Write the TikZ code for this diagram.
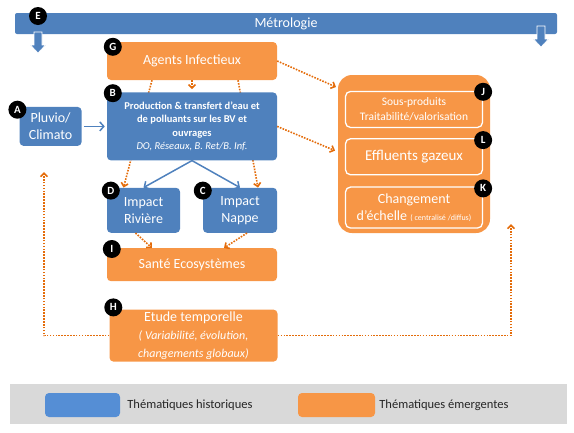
\documentclass[tikz,border=0pt]{standalone}
\usepackage{fontspec}
\setmainfont{Carlito}
\usetikzlibrary{positioning,arrows.meta,backgrounds}
\definecolor{histblue}{HTML}{4F81BD}
\definecolor{legblue}{HTML}{558ED5}
\definecolor{emorange}{HTML}{F79646}
\definecolor{dotorange}{HTML}{E46C0A}
\definecolor{leggray}{HTML}{D9D9D9}

\begin{document}
\begin{tikzpicture}[x=1pt,y=-1pt,
	bluenode/.style={rectangle,rounded corners=4pt,fill=histblue,text=white,align=center,inner sep=1pt},
	orangenode/.style={rectangle,rounded corners=4pt,fill=emorange,text=white,align=center,inner sep=1pt},
	innernode/.style={rectangle,rounded corners=5pt,draw=white,line width=1.3pt,text=white,align=center,inner sep=1pt,minimum width=137pt},
	letternode/.style={circle,fill=black,text=white,inner sep=0pt,minimum size=18pt,font=\fontsize{11}{11}\selectfont\bfseries},
	bluearrow/.style={draw=histblue,line width=1.5pt,-{Straight Barb[length=4pt,width=9pt]}},
	dotarrow/.style={draw=dotorange,line width=1.6pt,dash pattern=on 1.6pt off 1.3pt,-{Straight Barb[length=3.5pt,width=7pt]}},
	legendtext/.style={inner sep=0pt,text=black!85,font=\fontsize{12.5}{14}\selectfont}]
	\useasboundingbox (0,0) rectangle (574,432);

	\node[rectangle,fill=leggray,minimum width=557pt,minimum height=40pt]					(legend)	at (288.5,404)	{};
	\node[bluenode,fill=legblue,minimum width=75pt,minimum height=24pt]						(histkey)	at (82.5,405)	{};
	\node[legendtext,right=7pt of histkey]													(histtext)	{Thématiques historiques};
	\node[orangenode,minimum width=77pt,minimum height=24pt]								(emkey)		at (336.5,405)	{};
	\node[legendtext,right=4pt of emkey]													(emtext)	{Thématiques émergentes};

	\node[bluenode,rounded corners=2pt,minimum width=542pt,minimum height=21pt,font=\fontsize{14}{16}\selectfont]	(metro)	at (286,23.5)	{Métrologie};
	\foreach \xa/\ya in {38/32,541/26}
		\draw[fill=histblue,draw=white,line width=0.6pt] (\xa-4,\ya) -- (\xa+4,\ya) -- (\xa+4,\ya+13) -- (\xa+7.5,\ya+13) -- (\xa,\ya+21) -- (\xa-7.5,\ya+13) -- (\xa-4,\ya+13) -- cycle;

	\node[orangenode,minimum width=170pt,minimum height=38pt,font=\fontsize{14}{16}\selectfont]					(G)		at (192,61)		{Agents Infectieux};
	\node[bluenode,minimum width=170pt,minimum height=68pt,font=\fontsize{10.5}{13.3}\selectfont\bfseries,below=12pt of G]	(B)	{Production \& transfert d'eau et\\de polluants sur les BV et\\ouvrages\\\textit{\mdseries DO, Réseaux, B. Ret/B. Inf.}};
	\node[bluenode,minimum width=62pt,minimum height=39pt,font=\fontsize{14}{17}\selectfont,left=25pt of B]		(A)		{Pluvio/\\Climato};
	\node[bluenode,minimum width=73pt,minimum height=45pt,font=\fontsize{14}{17}\selectfont,below=27pt of B.south west,anchor=north west]	(D)	{Impact\\Rivière};
	\node[bluenode,minimum width=74pt,minimum height=45pt,font=\fontsize{14}{17}\selectfont,below=27pt of B.south east,anchor=north east]	(C)	{Impact\\Nappe};
	\node[orangenode,minimum width=170pt,minimum height=33pt,font=\fontsize{14}{17}\selectfont,below=15pt of D.south west,anchor=north west]	(I)	{Santé Ecosystèmes};
	\node[orangenode,minimum width=168pt,minimum height=52pt,font=\fontsize{14}{18}\selectfont,below=28pt of I,xshift=1.5pt]	(H)	{Etude temporelle\\\textit{\fontsize{12}{18}\selectfont ( Variabilité, évolution,}\\\textit{\fontsize{12}{18}\selectfont changements globaux)}};

	\node[orangenode,rounded corners=14pt,minimum width=152pt,minimum height=158pt]								(cont)	at (414,154)	{};
	\node[innernode,minimum height=36pt,font=\fontsize{11.5}{15}\selectfont,below=16pt of cont.north]			(J)		{Sous-produits\\Traitabilité/valorisation};
	\node[innernode,minimum height=36pt,font=\fontsize{15}{17}\selectfont,below=10pt of J]						(L)		{Effluents gazeux};
	\node[innernode,minimum height=41pt,font=\fontsize{14}{17}\selectfont,below=11pt of L]						(K)		{Changement\\d'échelle {\fontsize{8}{9}\selectfont ( centralisé /diffus)}};

	\node[letternode]	(e)	at (38,16)							{E};
	\node[letternode]	(g)	at ([shift={(6,5)}]G.north west)	{G};
	\node[letternode]	(b)	at ([shift={(6,1)}]B.north west)	{B};
	\node[letternode]	(a)	at ([shift={(-2,3)}]A.north west)	{A};
	\node[letternode]	(d)	at ([shift={(4,3)}]D.north west)	{D};
	\node[letternode]	(c)	at ([shift={(0,3)}]C.north west)	{C};
	\node[letternode]	(i)	at ([shift={(5,1)}]I.north west)	{I};
	\node[letternode]	(h)	at ([shift={(4,-2)}]H.north west)	{H};
	\node[letternode]	(j)	at ([shift={(0,1)}]J.north east)	{J};
	\node[letternode]	(l)	at ([shift={(0,2)}]L.north east)	{L};
	\node[letternode]	(k)	at ([shift={(0,2)}]K.north east)	{K};

	\coordinate (pluvioin)	at (44,172);
	\coordinate (contin)	at (511,224);

	\begin{scope}[on background layer]
		\draw[dotarrow] ([xshift=-40pt]G.south) -- ([xshift=-20pt]D.north);
		\draw[dotarrow] ([xshift=46pt]G.south) -- ([xshift=18pt]C.north);
	\end{scope}
	\draw[dotarrow,shorten >=3pt] (G.south) -- (B.north);
	\draw[bluearrow,shorten <=2pt,shorten >=2pt] (A.east) -- (B.west);
	\draw[bluearrow] (B.south) -- (D.north);
	\draw[bluearrow] (B.south) -- (C.north);
	\draw[dotarrow] ([xshift=-8pt]D.south) -- ([xshift=-40pt]I.north);
	\draw[dotarrow] ([xshift=7pt]C.south) -- ([xshift=32pt]I.north);
	\draw[dotarrow,shorten >=2pt] (G.east) -- ([yshift=-13pt]cont.north west);
	\draw[dotarrow,shorten >=3pt] (B.east) -- ([yshift=-77pt]cont.north west);
	\draw[dotarrow] (H.west) -| (pluvioin);
	\draw[dotarrow] (H.east) -| (contin);
\end{tikzpicture}
\end{document}
